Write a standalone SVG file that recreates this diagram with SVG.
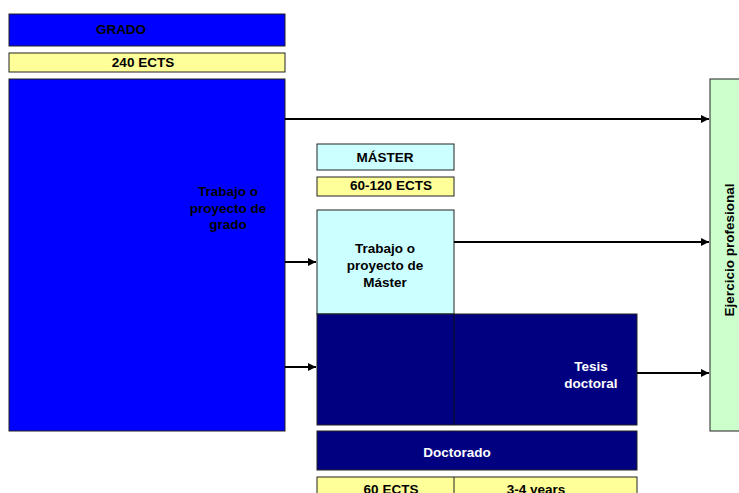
<svg xmlns="http://www.w3.org/2000/svg" width="739" height="493" viewBox="0 0 739 493">
  <style>
    text { font-family: "Liberation Sans", Arial, sans-serif; font-weight: bold; font-size: 13.5px; text-anchor: middle; }
    .box { stroke: #222; stroke-width: 1; }
    .blue { fill: #0000FF; }
    .navy { fill: #000080; }
    .yellow { fill: #FFFF99; }
    .cyan { fill: #CCFFFF; }
    .green { fill: #CCFFCC; }
    .dark { fill: #000; }
    .light { fill: #FFF; }
    .conn { stroke: #000; stroke-width: 2; fill: none; marker-end: url(#arrow); }
  </style>
  <defs>
    <marker id="arrow" viewBox="0 0 10 10" refX="10" refY="5" markerWidth="4.5" markerHeight="4" orient="auto" markerUnits="strokeWidth">
      <path d="M0,0 L10,5 L0,10 z" fill="#000"/>
    </marker>
  </defs>
  <rect width="739" height="493" fill="#FFF"/>

  <g id="grado-title">
    <rect class="box blue" x="9" y="14" width="276" height="32"/>
    <text class="dark" x="121" y="34">GRADO</text>
  </g>
  <g id="grado-ects">
    <rect class="box yellow" x="9" y="53" width="276" height="19"/>
    <text class="dark" x="143" y="67">240 ECTS</text>
  </g>
  <g id="grado-trabajo">
    <rect class="box blue" x="9" y="79" width="276" height="352"/>
    <text class="dark" x="228" y="196">Trabajo o</text>
    <text class="dark" x="228" y="213">proyecto de</text>
    <text class="dark" x="228" y="229">grado</text>
  </g>

  <g id="master-title">
    <rect class="box cyan" x="317" y="144" width="137" height="26"/>
    <text class="dark" x="385" y="162">MÁSTER</text>
  </g>
  <g id="master-ects">
    <rect class="box yellow" x="317" y="177" width="137" height="19"/>
    <text class="dark" x="391" y="190">60-120 ECTS</text>
  </g>
  <g id="master-trabajo">
    <rect class="box cyan" x="317" y="210" width="137" height="104"/>
    <text class="dark" x="385" y="253">Trabajo o</text>
    <text class="dark" x="385" y="270">proyecto de</text>
    <text class="dark" x="385" y="287">Máster</text>
  </g>

  <g id="doctorado-tesis">
    <rect class="box navy" x="317" y="314" width="320" height="111"/>
    <line x1="454" y1="314" x2="454" y2="425" stroke="#111" stroke-width="1"/>
    <text class="light" x="591" y="371">Tesis</text>
    <text class="light" x="591" y="388">doctoral</text>
  </g>
  <g id="doctorado-title">
    <rect class="box navy" x="317" y="431" width="320" height="39"/>
    <text class="light" x="457" y="457">Doctorado</text>
  </g>
  <g id="doctorado-duracion">
    <rect class="box yellow" x="317" y="477" width="320" height="30"/>
    <line x1="454" y1="477" x2="454" y2="493" stroke="#222" stroke-width="1"/>
    <text class="dark" x="391" y="494">60 ECTS</text>
    <text class="dark" x="536" y="494">3-4 years</text>
  </g>

  <g id="ejercicio">
    <rect class="box green" x="710" y="79" width="40" height="352"/>
    <text class="dark" transform="translate(734,250) rotate(-90)">Ejercicio profesional</text>
  </g>

  <g id="connectors">
    <line class="conn" x1="285" y1="119" x2="709" y2="119"/>
    <line class="conn" x1="454" y1="242" x2="709" y2="242"/>
    <line class="conn" x1="637" y1="373" x2="709" y2="373"/>
    <line class="conn" x1="285" y1="262" x2="316" y2="262"/>
    <line class="conn" x1="285" y1="367" x2="316" y2="367"/>
  </g>
</svg>
